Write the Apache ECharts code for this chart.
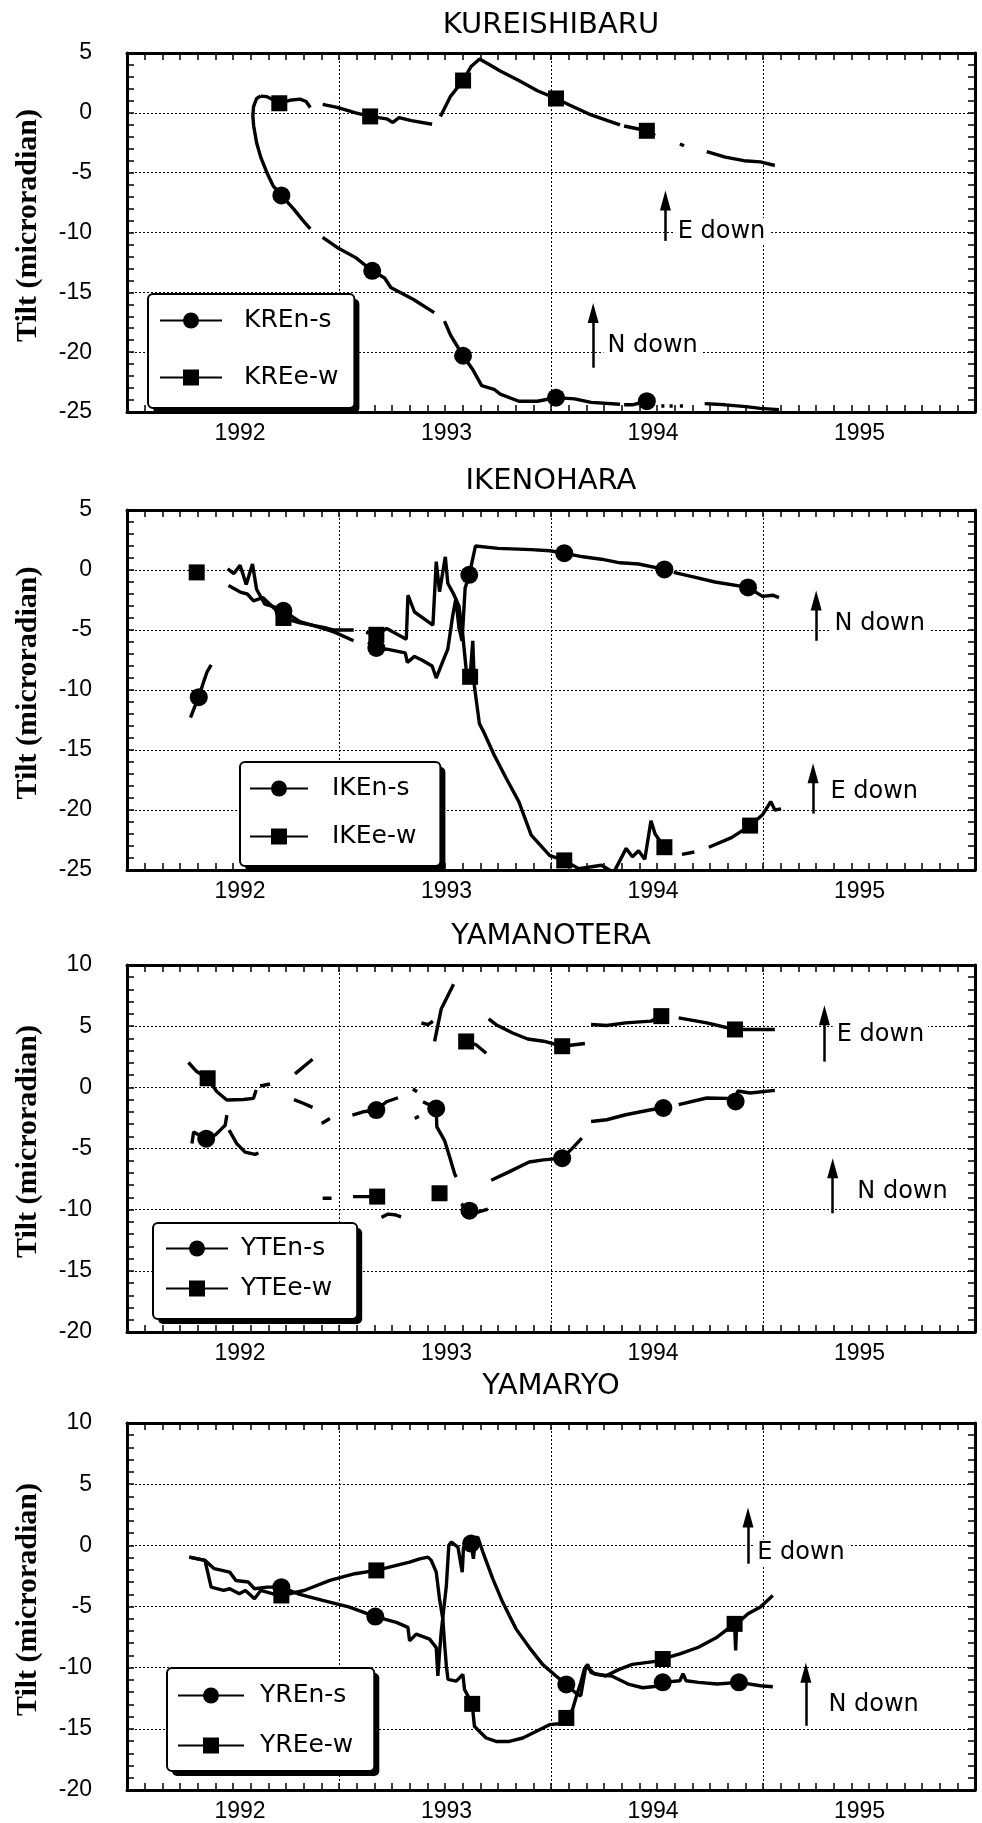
<!DOCTYPE html>
<html>
<head>
<meta charset="utf-8">
<title>Tilt records</title>
<script src="https://cdn.jsdelivr.net/npm/echarts@6/dist/echarts.min.js"></script>
<style>
  html, body { margin: 0; background: #fff; }
  #chart { width: 982px; height: 1823px; }
</style>
</head>
<body>
<div id="chart"></div>
<script>
// x = decimal year, y = tilt in microradian, third item 1 = plotted marker, null = gap in record
const yearTicks = [1992, 1993, 1994, 1995];

const kreNs = [
  [1992.10, 1.4], [1992.08, 1.2], [1992.065, 0.5], [1992.062, -0.3], [1992.066, -1.1], [1992.08, -2.5],
  [1992.10, -3.7], [1992.13, -5.0], [1992.16, -6.1], [1992.20, -6.9, 1], [1992.26, -8.05], [1992.30, -8.9],
  [1992.34, -9.7], null,
  [1992.40, -10.4], [1992.47, -11.25], [1992.56, -12.1], [1992.64, -13.2, 1], [1992.70, -13.8], [1992.73, -14.6],
  [1992.84, -15.6], [1992.94, -16.7], null,
  [1992.99, -17.4], [1993.02, -18.6], [1993.08, -20.3, 1], [1993.125, -21.4], [1993.17, -22.8], [1993.23, -23.1],
  [1993.26, -23.5], [1993.35, -24.1], [1993.44, -24.1], [1993.53, -23.8, 1], [1993.62, -23.9], [1993.70, -24.2],
  [1993.84, -24.35], null,
  [1993.86, -24.4], [1993.90, -24.4], [1993.97, -24.1, 1], [1994.00, -24.3], null,
  [1994.04, -24.5], [1994.055, -24.5], null,
  [1994.08, -24.5], [1994.095, -24.5], null,
  [1994.13, -24.5], [1994.145, -24.5], null,
  [1994.25, -24.3], [1994.35, -24.4], [1994.45, -24.55], [1994.52, -24.7], [1994.61, -24.8]
];
const kreEw = [
  [1992.10, 1.4], [1992.13, 1.35], [1992.16, 1.1], [1992.19, 0.8, 1], [1992.24, 1.05], [1992.29, 1.15],
  [1992.32, 0.95], [1992.34, 0.45], null,
  [1992.40, 0.7], [1992.47, 0.45], [1992.56, 0.0], [1992.63, -0.3, 1], [1992.71, -0.5], [1992.74, -0.8],
  [1992.77, -0.4], [1992.83, -0.65], [1992.93, -0.95], null,
  [1992.97, -0.3], [1993.02, 1.4], [1993.08, 2.7, 1], [1993.12, 3.9], [1993.16, 4.5], [1993.20, 4.1],
  [1993.26, 3.5], [1993.35, 2.7], [1993.44, 1.85], [1993.53, 1.2, 1], [1993.59, 0.7], [1993.69, -0.1],
  [1993.78, -0.65], [1993.84, -1.0], null,
  [1993.86, -1.1], [1993.97, -1.5, 1], [1994.01, -1.9], null,
  [1994.13, -2.6], [1994.15, -2.75], null,
  [1994.26, -3.25], [1994.35, -3.7], [1994.44, -4.0], [1994.52, -4.1], [1994.59, -4.4]
];

const ikeNs = [
  [1991.76, -12.3], [1991.78, -11.4], [1991.80, -10.6, 1], [1991.82, -9.5], [1991.84, -8.5], [1991.86, -7.9], null,
  [1991.94, 0.1], [1991.97, -0.3], [1992.00, 0.4], [1992.03, -1.2], [1992.06, 0.5], [1992.08, -1.6],
  [1992.12, -2.85], [1992.17, -3.1], [1992.21, -3.4, 1], [1992.29, -4.3], [1992.41, -4.9], [1992.46, -5.2],
  [1992.55, -5.9], null,
  [1992.62, -6.0], [1992.66, -6.5, 1], [1992.71, -6.6], [1992.80, -6.9], [1992.81, -7.7], [1992.845, -7.2],
  [1992.88, -7.5], [1992.93, -8.0], [1992.95, -9.0], [1992.98, -7.7], [1993.006, -6.6], [1993.03, -3.8],
  [1993.045, -2.4], [1993.06, -4.8], [1993.075, -5.9], [1993.09, -1.5], [1993.11, -0.4, 1], [1993.14, 2.0],
  [1993.25, 1.8], [1993.41, 1.7], [1993.50, 1.6], [1993.57, 1.4, 1], [1993.66, 1.1], [1993.75, 0.9],
  [1993.84, 0.6], [1993.93, 0.5], [1994.055, 0.05, 1], null,
  [1994.10, -0.2], [1994.20, -0.6], [1994.30, -1.0], [1994.46, -1.45, 1], [1994.53, -2.2], [1994.58, -2.1],
  [1994.61, -2.3]
];
const ikeEw = [
  [1991.77, 0.3], [1991.79, -0.2, 1], [1991.81, -0.4], null,
  [1991.944, -1.3], [1992.005, -1.87], [1992.035, -2.0], [1992.065, -2.57], [1992.11, -2.3], [1992.17, -3.27],
  [1992.21, -4.0, 1], [1992.29, -4.4], [1992.41, -4.8], [1992.45, -5.0], [1992.55, -5.0], null,
  [1992.61, -5.2], [1992.66, -5.4, 1], [1992.71, -4.87], [1992.805, -5.77], [1992.813, -2.1], [1992.845, -3.5],
  [1992.878, -3.9], [1992.934, -4.6], [1992.95, 0.7], [1992.966, -1.8], [1992.994, 1.1], [1993.006, -1.1],
  [1993.034, -2.0], [1993.06, -3.0], [1993.079, -5.5], [1993.095, -8.3], [1993.114, -8.9, 1], [1993.127, -5.9],
  [1993.135, -9.7], [1993.159, -12.8], [1993.18, -13.5], [1993.23, -15.4], [1993.29, -17.4], [1993.35, -19.3],
  [1993.41, -22.1], [1993.50, -23.8], [1993.57, -24.2, 1], [1993.64, -24.9], [1993.75, -24.6], [1993.81, -25.2],
  [1993.87, -23.2], [1993.90, -23.9], [1993.93, -23.4], [1993.96, -24.1], [1993.99, -20.9], [1994.01, -22.0],
  [1994.055, -23.1, 1], null,
  [1994.14, -23.7], [1994.20, -23.5], null,
  [1994.27, -23.1], [1994.38, -22.3], [1994.47, -21.3, 1], [1994.53, -20.4], [1994.57, -19.3], [1994.59, -20.0],
  [1994.62, -19.9]
];

const ytNs = [
  [1991.767, -4.6], [1991.775, -3.64], [1991.80, -3.9], [1991.836, -4.2, 1], [1991.88, -3.9], [1991.904, -3.5],
  [1991.928, -3.1], [1991.936, -2.27], null,
  [1991.947, -3.5], [1991.984, -4.6], [1992.024, -5.3], [1992.073, -5.48], [1992.089, -5.37], null,
  [1992.261, -1.0], [1992.306, -1.3], [1992.351, -1.64], null,
  [1992.395, -2.96], [1992.435, -2.55], null,
  [1992.544, -2.27], [1992.596, -2.0], [1992.66, -1.86, 1], [1992.709, -1.18], [1992.765, -0.85], null,
  [1992.837, -0.14], [1992.857, -0.36], null,
  [1992.846, -2.55], [1992.866, -2.36], null,
  [1992.886, -1.18], [1992.918, -1.45], [1992.95, -1.73, 1], [1992.953, -3.23], [1992.99, -4.33],
  [1993.015, -5.7], [1993.039, -7.07], [1993.047, -7.34], null,
  [1993.071, -9.53], [1993.111, -10.08, 1], [1993.152, -10.2], [1993.20, -9.95], null,
  [1993.216, -7.6], [1993.30, -6.93], [1993.40, -6.1], [1993.47, -5.93], [1993.56, -5.79, 1], [1993.61, -4.97],
  [1993.655, -4.15], null,
  [1993.70, -2.79], [1993.776, -2.65], [1993.867, -2.24], [1993.99, -1.83], [1994.05, -1.69, 1], null,
  [1994.124, -1.42], [1994.26, -0.87], [1994.36, -0.9], [1994.40, -1.15, 1], [1994.41, -0.3], [1994.47, -0.46],
  [1994.59, -0.25]
];
const ytEw = [
  [1991.75, 2.03], [1991.79, 1.29], [1991.843, 0.74, 1], [1991.888, -0.36], [1991.936, -1.04], [1992.016, -0.99],
  [1992.065, -0.9], [1992.078, -0.22], null,
  [1992.097, 0.11], [1992.145, 0.27], null,
  [1992.266, 1.1], [1992.351, 2.3], null,
  [1992.40, -9.07], [1992.443, -9.07], null,
  [1992.547, -8.93], [1992.596, -8.93], [1992.664, -8.93, 1], [1992.673, -9.53], null,
  [1992.685, -10.63], [1992.717, -10.36], [1992.749, -10.41], [1992.78, -10.58], null,
  [1992.966, -8.66, 1], null,
  [1992.878, 5.26], [1992.91, 5.12], [1992.934, 5.4], null,
  [1992.942, 3.75], [1992.974, 6.4], [1993.034, 8.42], null,
  [1993.095, 3.75, 1], [1993.143, 3.48], [1993.192, 2.79], null,
  [1993.204, 5.59], [1993.24, 5.12], [1993.32, 4.44], [1993.393, 3.95], [1993.47, 3.77], [1993.56, 3.36, 1],
  [1993.67, 3.58], null,
  [1993.70, 5.14], [1993.776, 5.05], [1993.867, 5.27], [1993.99, 5.41], [1994.04, 5.82, 1], null,
  [1994.124, 5.68], [1994.26, 5.27], [1994.397, 4.73, 1], [1994.47, 4.73], [1994.59, 4.73]
];

const yrNs = [
  [1991.754, -0.96], [1991.83, -1.23], [1991.875, -1.91], [1991.95, -2.19], [1991.98, -2.87], [1992.04, -3.0],
  [1992.07, -3.55], [1992.13, -3.42], [1992.20, -3.42, 1], [1992.28, -3.96], [1992.40, -4.5], [1992.53, -5.05],
  [1992.655, -5.82, 1], [1992.757, -6.3], [1992.813, -6.71], [1992.821, -7.81], [1992.853, -7.26],
  [1992.918, -7.67], [1992.95, -8.36], [1992.958, -10.68], [1992.966, -8.77], [1992.974, -7.12],
  [1992.999, -3.29], [1993.011, 0], [1993.023, 0.27], [1993.055, -0.14], [1993.076, -2.19], [1993.082, -0.14],
  [1993.119, 0.14, 1], [1993.13, -1.1], [1993.14, 0.55], [1993.151, 0.68], [1993.176, -0.55], [1993.224, -2.74],
  [1993.272, -4.66], [1993.337, -6.85], [1993.401, -8.36], [1993.465, -9.73], [1993.53, -10.68],
  [1993.58, -11.37, 1], [1993.634, -12.19], [1993.65, -12.3], [1993.675, -9.86], [1993.72, -10.55],
  [1993.80, -10.68], [1993.884, -11.37], [1993.95, -11.64], [1994.03, -11.5], [1994.047, -11.2, 1],
  [1994.13, -11.07], [1994.145, -10.5], [1994.16, -11.07], [1994.22, -11.2], [1994.31, -11.34],
  [1994.416, -11.2, 1], [1994.52, -11.48], [1994.58, -11.56]
];
const yrEw = [
  [1991.754, -0.96], [1991.83, -1.23], [1991.86, -3.42], [1991.92, -3.69], [1991.95, -3.55], [1991.996, -3.96],
  [1992.026, -3.69], [1992.07, -4.37], [1992.10, -3.69], [1992.16, -3.96], [1992.20, -4.1, 1], [1992.31, -3.69],
  [1992.435, -2.87], [1992.556, -2.32], [1992.66, -2.05, 1], [1992.757, -1.64], [1992.821, -1.37],
  [1992.87, -1.1], [1992.91, -0.96], [1992.926, -1.23], [1992.95, -2.19], [1992.966, -4.38], [1992.982, -6.03],
  [1992.99, -7.95], [1992.999, -9.86], [1993.007, -10.96], [1993.047, -11.1], [1993.079, -10.55],
  [1993.087, -11.78], [1993.124, -12.96, 1], [1993.135, -14.79], [1993.151, -15.07], [1993.192, -15.75],
  [1993.24, -16.03], [1993.304, -16.03], [1993.369, -15.75], [1993.433, -15.21], [1993.498, -14.66],
  [1993.546, -14.58], [1993.58, -14.11, 1], [1993.61, -13.42], [1993.634, -12.05], [1993.65, -11.23],
  [1993.667, -10.14], [1993.683, -9.73], [1993.70, -10.4], [1993.77, -10.68], [1993.836, -10.14],
  [1993.90, -9.73], [1993.965, -9.59], [1994.03, -9.45], [1994.047, -9.29, 1], [1994.13, -8.88],
  [1994.22, -8.33], [1994.31, -7.51], [1994.395, -6.42, 1], [1994.40, -8.6], [1994.405, -6.42],
  [1994.46, -5.6], [1994.52, -5.05], [1994.58, -4.1]
];

// arrow annotations: arrow at x from tail up to head, text starting at tx, centred on ty
const kreNotes = [
  { text: 'E down', x: 1994.06, head: -6.5, tail: -10.7, tx: 1994.10, ty: -9.9 },
  { text: 'N down', x: 1993.71, head: -15.9, tail: -21.3, tx: 1993.76, ty: -19.5 }
];
const ikeNotes = [
  { text: 'N down', x: 1994.79, head: -1.7, tail: -5.9, tx: 1994.86, ty: -4.5 },
  { text: 'E down', x: 1994.775, head: -16.1, tail: -20.3, tx: 1994.84, ty: -18.5 }
];
const ytNotes = [
  { text: 'E down', x: 1994.83, head: 6.7, tail: 2.1, tx: 1994.87, ty: 4.3 },
  { text: 'N down', x: 1994.87, head: -5.8, tail: -10.3, tx: 1994.97, ty: -8.5 }
];
const yrNotes = [
  { text: 'E down', x: 1994.46, head: 3.1, tail: -1.5, tx: 1994.485, ty: -0.6 },
  { text: 'N down', x: 1994.74, head: -9.6, tail: -14.75, tx: 1994.83, ty: -13.0 }
];

const numFont = 'Liberation Sans';
const textFont = 'DejaVu Sans';

// the x axis runs in days; 375-day grid, year labels placed on Jan 1
const day = yr => (yr - 1992) * 365.25 + 200;
const yearOf = d => Math.round((d - 200) / 365.25 + 1992);

const panels = [
  {
    title: 'KUREISHIBARU', titleTop: 11, top: 53, height: 359, yMin: -25, yMax: 5,
    ns: ['KREn-s', kreNs], ew: ['KREe-w', kreEw], notes: kreNotes,
    legend: { left: 148, top: 294, itemWidth: 62, itemGap: 32, padding: [14, 16, 18, 11], textPad: 17 }
  },
  {
    title: 'IKENOHARA', titleTop: 467, top: 510, height: 360, yMin: -25, yMax: 5,
    ns: ['IKEn-s', ikeNs], ew: ['IKEe-w', ikeEw], notes: ikeNotes,
    legend: { left: 240, top: 762, itemWidth: 58, itemGap: 23, padding: [14, 24, 17, 9], textPad: 19 }
  },
  {
    title: 'YAMANOTERA', titleTop: 922, top: 965, height: 367, yMin: -20, yMax: 10,
    ns: ['YTEn-s', ytNs], ew: ['YTEe-w', ytEw], notes: ytNotes,
    legend: { left: 153, top: 1223, itemWidth: 62, itemGap: 15, padding: [13, 25, 18, 12], textPad: 8 }
  },
  {
    title: 'YAMARYO', titleTop: 1372, top: 1423, height: 369, yMin: -20, yMax: 10,
    ns: ['YREn-s', yrNs], ew: ['YREe-w', yrEw], notes: yrNotes,
    legend: { left: 167, top: 1668, itemWidth: 66, itemGap: 25, padding: [15, 21, 13, 10], textPad: 11 }
  }
];

const black = '#000';
const frame = { show: true, onZero: false, lineStyle: { color: black, width: 3 } };
const tick = { show: true, inside: true, length: 7, lineStyle: { color: black, width: 1.5 } };
const grid = { show: true, lineStyle: { color: black, width: 1, type: [2, 2] } };

function lineData(points, size) {
  return points.map(p => p === null
    ? ['-', '-']
    : { value: [day(p[0]), p[1]], symbolSize: p[2] ? size : 0 });
}

function xAxes(i) {
  const base = {
    type: 'value', gridIndex: i, min: 0, max: 1500, interval: 375,
    axisLine: frame, axisTick: tick,
    minorTick: { show: true, splitNumber: 12, length: 7, lineStyle: { color: black, width: 1.5 } }
  };
  return [
    Object.assign({}, base, {
      position: 'bottom', splitLine: grid,
      axisLabel: {
        customValues: yearTicks.map(day), formatter: v => String(yearOf(v)),
        margin: 10, color: black, fontFamily: numFont, fontSize: 23
      }
    }),
    Object.assign({}, base, { position: 'top', splitLine: { show: false }, axisLabel: { show: false } })
  ];
}

function yAxes(i, p) {
  const base = {
    type: 'value', gridIndex: i, min: p.yMin, max: p.yMax, interval: 5,
    axisLine: frame, axisTick: tick,
    minorTick: { show: true, splitNumber: 5, length: 7, lineStyle: { color: black, width: 1.5 } }
  };
  return [
    Object.assign({}, base, {
      position: 'left', splitLine: grid,
      axisLabel: { margin: 35, color: black, fontFamily: numFont, fontSize: 23 },
      name: 'Tilt (microradian)', nameLocation: 'middle', nameGap: 84,
      nameTextStyle: {
        color: black, fontFamily: 'Liberation Serif', fontWeight: 'bold', fontSize: 30,
        padding: [0, 0, 0, 14]
      }
    }),
    Object.assign({}, base, { position: 'right', splitLine: { show: false }, axisLabel: { show: false } })
  ];
}

function seriesFor(i, p) {
  const common = {
    type: 'line', xAxisIndex: 2 * i, yAxisIndex: 2 * i, showSymbol: true, connectNulls: false,
    silent: true, emphasis: { disabled: true },
    lineStyle: { color: black, width: 3.4 }, itemStyle: { color: black }
  };
  return [
    Object.assign({}, common, {
      name: p.ns[0], symbol: 'circle', data: lineData(p.ns[1], 18),
      // arrow shafts
      markLine: {
        silent: true, animation: false, symbol: ['none', 'none'],
        label: { show: false }, emphasis: { disabled: true },
        lineStyle: { color: black, width: 2.5, type: 'solid' },
        data: p.notes.map(n => [{ coord: [day(n.x), n.tail] }, { coord: [day(n.x), n.head - 0.8] }])
      },
      // annotation text
      markPoint: {
        silent: true, animation: false, symbol: 'circle', symbolSize: 0,
        itemStyle: { color: 'rgba(0,0,0,0)' },
        label: {
          show: true, position: 'right', distance: 0, formatter: '{b}',
          color: black, fontFamily: textFont, fontSize: 24, backgroundColor: '#fff', padding: [1, 4]
        },
        data: p.notes.map(n => ({ name: n.text, coord: [day(n.tx), n.ty] }))
      }
    }),
    Object.assign({}, common, {
      name: p.ew[0], symbol: 'rect', data: lineData(p.ew[1], 16),
      // arrow heads, tip on the head value
      markPoint: {
        silent: true, animation: false, symbol: 'triangle', symbolSize: [11, 20], symbolOffset: [0, 10],
        itemStyle: { color: black }, label: { show: false },
        data: p.notes.map(n => ({ coord: [day(n.x), n.head] }))
      }
    })
  ];
}

const legendText = { fontFamily: textFont, fontSize: 25, lineHeight: 20 };

function legendBase(p) {
  return {
    data: [p.ns[0], p.ew[0]], orient: 'vertical', left: p.legend.left, top: p.legend.top,
    itemWidth: p.legend.itemWidth, itemHeight: 20, itemGap: p.legend.itemGap, padding: p.legend.padding,
    selectedMode: false, borderRadius: 5
  };
}

const chart = echarts.init(document.getElementById('chart'));
chart.setOption({
  animation: false,
  backgroundColor: '#fff',
  title: panels.map(p => ({
    text: p.title, left: 551, top: p.titleTop, textAlign: 'center', padding: 0,
    textStyle: { color: black, fontFamily: textFont, fontSize: 29, fontWeight: 'normal' }
  })),
  legend: [
    // white box casting the hard drop shadow, items hidden
    ...panels.map(p => Object.assign(legendBase(p), {
      z: 3, backgroundColor: '#fff', borderWidth: 0,
      shadowColor: black, shadowBlur: 0, shadowOffsetX: 5, shadowOffsetY: 5,
      itemStyle: { opacity: 0 }, lineStyle: { opacity: 0 },
      textStyle: Object.assign({ color: 'rgba(0,0,0,0)', padding: [0, 0, 0, p.legend.textPad] }, legendText)
    })),
    // outlined box with the visible items
    ...panels.map(p => Object.assign(legendBase(p), {
      z: 4, backgroundColor: 'rgba(0,0,0,0)', borderColor: black, borderWidth: 2,
      textStyle: Object.assign({ color: black, padding: [0, 0, 0, p.legend.textPad] }, legendText)
    }))
  ],
  grid: panels.map(p => ({ left: 127, right: 7, top: p.top, height: p.height })),
  xAxis: panels.flatMap((p, i) => xAxes(i)),
  yAxis: panels.flatMap((p, i) => yAxes(i, p)),
  series: panels.flatMap((p, i) => seriesFor(i, p))
});
</script>
</body>
</html>
